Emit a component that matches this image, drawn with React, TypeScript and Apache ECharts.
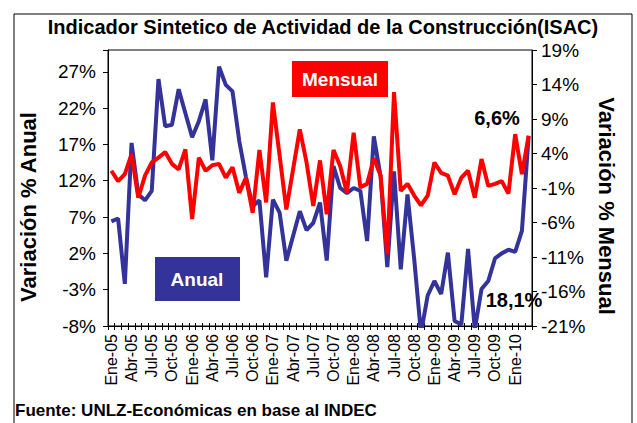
import React, { useEffect, useRef } from 'react';
import * as echarts from 'echarts';

const monthNames = ['Ene', 'Feb', 'Mar', 'Abr', 'May', 'Jun', 'Jul', 'Ago', 'Sep', 'Oct', 'Nov', 'Dic'];
const yearSuffixes = ['05', '06', '07', '08', '09', '10'];
const monthCount = 63; // Ene-05 .. Mar-10
const categories: string[] = [];
for (const y of yearSuffixes) for (const m of monthNames) categories.push(`${m}-${y}`);
categories.length = monthCount;

// Variación % Anual (left axis)
const anual = [
  6.4, 6.8, -2.2, 17.2, 10.1, 9.3, 10.6, 26.0, 19.5, 19.7, 24.6, 21.3,
  18.0, 20.2, 23.2, 14.8, 27.7, 25.2, 24.3, 17.5, 12.5, 8.5, 9.3, -1.3,
  9.4, 7.6, 1.0, 4.4, 7.8, 5.2, 6.2, 9.0, 1.0, 14.0, 11.0, 10.3,
  11.0, 10.6, 3.7, 18.1, 12.6, 0.1, 13.3, -0.2, 10.1, 1.2, -9.0, -3.8,
  -1.8, -3.6, 2.1, -7.3, -7.8, 2.6, -8.5, -2.9, -1.8, 1.3, 2.0, 2.5,
  2.2, 5.1, 18.1,
];

// Variación % Mensual (right axis)
const mensual = [
  1.5, 0.0, 1.0, 3.9, -2.4, 0.8, 2.7, 3.4, 4.2, 2.5, 1.7, 4.6,
  -5.5, 3.4, 1.5, 2.3, 2.5, 0.5, 2.0, -1.7, 0.5, -4.6, 4.5, -3.1,
  11.4, 3.7, -4.1, 1.7, 7.5, 2.7, -3.6, 3.0, -4.8, 4.5, 2.2, -1.7,
  7.0, -0.9, -0.4, 3.3, 0.8, -10.6, 12.9, -1.4, -0.4, -2.1, -3.5, -2.1,
  2.7, 1.2, 0.8, -1.9, 0.5, 1.5, -2.4, 3.2, -0.7, -0.4, 0.0, -1.8,
  6.8, 1.0, 6.6,
];

const leftMin = -8;
const leftMax = 30;
const rightMin = -21;
const rightMax = 19;
const tickStep = 5;

const titleText = 'Indicador Sintetico de Actividad de la Construcción(ISAC)';
const sourceText = 'Fuente: UNLZ-Económicas en base al INDEC';
const lastAnualLabel = '18,1%';
const lastMensualLabel = '6,6%';

const FONT = '"Liberation Sans", Arial, sans-serif';
const BLUE = '#333399';
const RED = '#FF0000';

export default function App() {
  const ref = useRef<HTMLDivElement>(null);
  useEffect(() => {
    if (!ref.current) return;
    const chart = echarts.init(ref.current, null, { renderer: 'svg' });
    const tickFmt = (min: number) => (v: number) =>
      Math.abs(((v - min) % tickStep)) < 1e-6 ? `${Math.round(v)}%` : '';
    chart.setOption({
      animation: false,
      backgroundColor: '#fff',
      grid: {
        left: 108, right: 105, top: 50, bottom: 97,
        show: true, borderColor: '#000', borderWidth: 1, backgroundColor: 'transparent',
      },
      xAxis: [
        {
          type: 'category', data: categories, boundaryGap: true, position: 'bottom',
          axisLine: { onZero: false, lineStyle: { color: '#000', width: 1 } },
          axisTick: { show: true, interval: 0, length: 4, lineStyle: { color: '#000' } },
          axisLabel: {
            interval: 2, rotate: 90, fontSize: 16, color: '#000', fontFamily: FONT, margin: 8,
          },
          splitLine: { show: false },
        },
        {
          type: 'category', data: categories, boundaryGap: true, position: 'bottom',
          axisLine: { show: false, onZero: false },
          axisTick: { show: true, inside: true, interval: 0, length: 3, lineStyle: { color: '#000' } },
          axisLabel: { show: false },
          splitLine: { show: false },
        },
      ],
      yAxis: [
        {
          type: 'value', min: leftMin, max: leftMax, interval: tickStep, position: 'left',
          axisLine: { show: true, onZero: false, lineStyle: { color: '#000' } },
          axisTick: { show: true, length: 5, lineStyle: { color: '#000' } },
          splitLine: { show: false },
          axisLabel: { formatter: tickFmt(leftMin), fontSize: 19, color: '#000', fontFamily: FONT, margin: 12 },
        },
        {
          type: 'value', min: rightMin, max: rightMax, interval: tickStep, position: 'right',
          axisLine: { show: true, onZero: false, lineStyle: { color: '#000' } },
          axisTick: { show: true, length: 5, lineStyle: { color: '#000' } },
          splitLine: { show: false },
          axisLabel: { formatter: tickFmt(rightMin), fontSize: 19, color: '#000', fontFamily: FONT, margin: 9 },
        },
      ],
      series: [
        {
          type: 'line', name: 'Anual', data: anual, xAxisIndex: 0, yAxisIndex: 0,
          symbol: 'none', lineStyle: { color: BLUE, width: 4 }, z: 2, clip: true,
        },
        {
          type: 'line', name: 'Mensual', data: mensual, xAxisIndex: 0, yAxisIndex: 1,
          symbol: 'none', lineStyle: { color: RED, width: 4 }, z: 3, clip: true,
        },
      ],
      graphic: [
        {
          type: 'rect', shape: { x: 14, y: 14, width: 618, height: 430 },
          style: { fill: 'none', stroke: '#000', lineWidth: 1 }, silent: true,
        },
        {
          type: 'text', x: 323, y: 27,
          style: { text: titleText, fontSize: 20, fontWeight: 'bold', fontFamily: FONT, fill: '#000', align: 'center', verticalAlign: 'middle' },
        },
        {
          type: 'text', x: 28, y: 207, rotation: Math.PI / 2,
          style: { text: 'Variación % Anual', fontSize: 22, fontWeight: 'bold', fontFamily: FONT, fill: '#000', align: 'center', verticalAlign: 'middle' },
        },
        {
          type: 'text', x: 606, y: 206, rotation: -Math.PI / 2,
          style: { text: 'Variación % Mensual', fontSize: 22, fontWeight: 'bold', fontFamily: FONT, fill: '#000', align: 'center', verticalAlign: 'middle' },
        },
        {
          type: 'rect', shape: { x: 292, y: 61, width: 96, height: 36 }, style: { fill: RED },
        },
        {
          type: 'text', x: 340, y: 79,
          style: { text: 'Mensual', fontSize: 19, fontWeight: 'bold', fontFamily: FONT, fill: '#fff', align: 'center', verticalAlign: 'middle' },
        },
        {
          type: 'rect', shape: { x: 155, y: 257, width: 85, height: 44 }, style: { fill: BLUE },
        },
        {
          type: 'text', x: 197, y: 279,
          style: { text: 'Anual', fontSize: 19, fontWeight: 'bold', fontFamily: FONT, fill: '#fff', align: 'center', verticalAlign: 'middle' },
        },
        {
          type: 'text', x: 497, y: 118,
          style: { text: lastMensualLabel, fontSize: 20, fontWeight: 'bold', fontFamily: FONT, fill: '#000', align: 'center', verticalAlign: 'middle' },
        },
        {
          type: 'text', x: 514, y: 300,
          style: { text: lastAnualLabel, fontSize: 20, fontWeight: 'bold', fontFamily: FONT, fill: '#000', align: 'center', verticalAlign: 'middle' },
        },
        {
          type: 'text', x: 15, y: 410,
          style: { text: sourceText, fontSize: 17, fontWeight: 'bold', fontFamily: FONT, fill: '#000', align: 'left', verticalAlign: 'middle' },
        },
      ],
    });
    return () => chart.dispose();
  }, []);
  return (
    <div
      ref={ref}
      style={{ position: 'fixed', left: 0, top: 0, width: 637, height: 423, background: '#fff' }}
    />
  );
}
